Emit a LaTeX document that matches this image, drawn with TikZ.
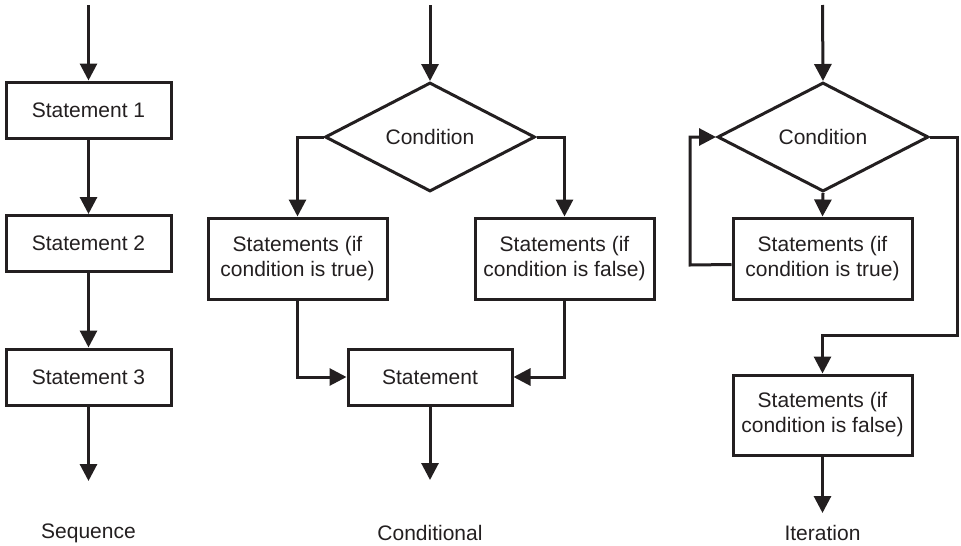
\documentclass[tikz,border=0pt]{standalone}
\usepackage{fontspec}
\setmainfont{Liberation Sans}
\usetikzlibrary{arrows.meta,shapes.geometric,calc}
\definecolor{ink}{HTML}{231F20}
\begin{document}
\begin{tikzpicture}[x=1pt,y=-1pt,
  every node/.style={text=ink,font=\fontsize{21}{25}\selectfont},
  flow/.style={draw=ink,line width=3pt,-{Triangle[width=17pt,length=17pt]}},
  wire/.style={draw=ink,line width=3pt},
  stmt/.style={draw=ink,line width=3pt,rectangle,inner sep=0pt,align=center,minimum width=165pt,minimum height=56pt},
  wide/.style={stmt,minimum width=179pt,minimum height=81pt},
  cond/.style={draw=ink,line width=3pt,diamond,aspect=2,inner sep=0pt,minimum width=210pt,minimum height=109pt}
]
\useasboundingbox (0,0) rectangle (961,546);

% ---- Sequence ----
\coordinate (sqtop) at (88.5,5);
\node[stmt] (s1) at (88.5,110) {Statement 1};
\node[stmt] (s2) at (88.5,243.5) {Statement 2};
\node[stmt] (s3) at (88.5,377) {Statement 3};
\coordinate (sqend) at (88.5,481);
\node (sqlabel) at (88.5,533) {Sequence};
\draw[flow] (sqtop) -- (s1.north);
\draw[flow] (s1.south) -- (s2.north);
\draw[flow] (s2.south) -- (s3.north);
\draw[flow] (s3.south) -- (sqend);

% ---- Conditional ----
\coordinate (cdtop) at (430,5);
\node[cond] (cd) at (430,137) {Condition};
\node[wide] (ct) at (297.5,258.5) {Statements (if\\condition is true)};
\node[wide] (cf) at (564.5,258.5) {Statements (if\\condition is false)};
\node[stmt,minimum width=164pt] (cs) at (430,377) {Statement};
\coordinate (cdend) at (430,480);
\node (cdlabel) at (430,533) {Conditional};
\draw[flow] (cdtop) -- (cd.north);
\draw[flow] (cd.west) -| (ct.north);
\draw[flow] (cd.east) -| (cf.north);
\draw[flow] (ct.south) |- (cs.west);
\draw[flow] (cf.south) |- (cs.east);
\draw[flow] (cs.south) -- (cdend);

% ---- Iteration ----
\coordinate (ittop) at (822.5,5);
\node[cond,minimum width=211pt] (it) at (823,137) {Condition};
\node[wide] (itt) at (822.5,258.5) {Statements (if\\condition is true)};
\node[wide,minimum height=80pt] (itf) at (822.5,415) {Statements (if\\condition is false)};
\coordinate (itend) at (822.5,513);
% loop back from the body to the test
\coordinate (loopa) at ($(itt.west)+(0,6)$);
\coordinate (loopb) at (690,265);
\coordinate (loopc) at (690,137);
% exit route to the statements after the loop
\coordinate (exita) at (957,137);
\coordinate (exitb) at (957,335);
\coordinate (exitc) at (822.5,335);
\node (itlabel) at (822.5,533) {Iteration};
\draw[flow] (ittop) -- (it.north);
\draw[flow] (it.south) -- (itt.north);
\draw[flow] (loopa) -- (loopb) -- (loopc) -- (it.west);
\draw[flow] (it.east) -- (exita) -- (exitb) -- (exitc) -- (itf.north);
\draw[flow] (itf.south) -- (itend);
\end{tikzpicture}
\end{document}
